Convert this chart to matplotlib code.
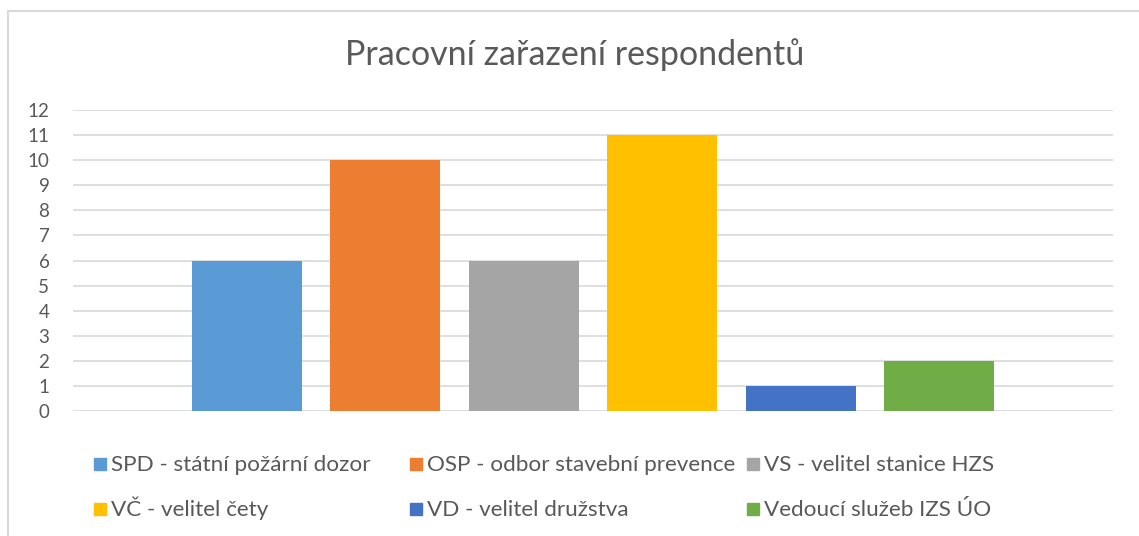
import matplotlib.pyplot as plt
from matplotlib.patches import Rectangle

labels = ["SPD - státní požární dozor", "OSP - odbor stavební prevence",
          "VS - velitel stanice HZS", "VČ - velitel čety",
          "VD - velitel družstva", "Vedoucí služeb IZS ÚO"]
values = [6, 10, 6, 11, 1, 2]
colors = ["#5B9BD5", "#ED7D31", "#A5A5A5", "#FFC000", "#4472C4", "#70AD47"]

plt.rcParams['font.family'] = ['Lato', 'DejaVu Sans']
txt = "#595959"
W, H = 1139, 536

fig = plt.figure(figsize=(W / 100, H / 100), dpi=100)
fig.patches.append(Rectangle((8 / W, -0.1), 1.2, 1 - 11 / H + 0.1,
                             transform=fig.transFigure, fill=False,
                             edgecolor="#D9D9D9", linewidth=1.5))
ax = fig.add_axes([73 / W, 1 - 411 / H, 1040 / W, 301 / H])

step = 0.1331
width = 0.1058
for i, (v, c) in enumerate(zip(values, colors)):
    ax.bar((i - 2.5) * step, v, width=width, color=c, zorder=3)

ax.set_xlim(-0.5, 0.5)
ax.set_ylim(0, 12)
ax.set_yticks(range(13))
ax.set_xticks([])
ax.grid(axis="y", color="#D9D9D9", linewidth=1.2, zorder=0)
for s in ax.spines.values():
    s.set_visible(False)
ax.tick_params(axis="y", length=0, labelsize=13.5, labelcolor=txt, pad=17)

fig.text(575 / W, 1 - 55 / H, "Pracovní zařazení respondentů", ha="center",
         va="center", fontsize=24.5, color=txt)

# legend, two rows of three entries
col_x = [94, 410, 747]
row_y = [464, 509]
sq = 12
for i, (lab, c) in enumerate(zip(labels, colors)):
    x = col_x[i % 3]
    y = row_y[i // 3]
    fig.patches.append(Rectangle((x / W, 1 - (y + sq / 2) / H), sq / W, sq / H,
                                 transform=fig.transFigure, color=c))
    fig.text((x + sq + 5) / W, 1 - (y + 7) / H, lab, ha="left", va="baseline",
             fontsize=16.2, color=txt)

fig.savefig("out.png", dpi=100)
